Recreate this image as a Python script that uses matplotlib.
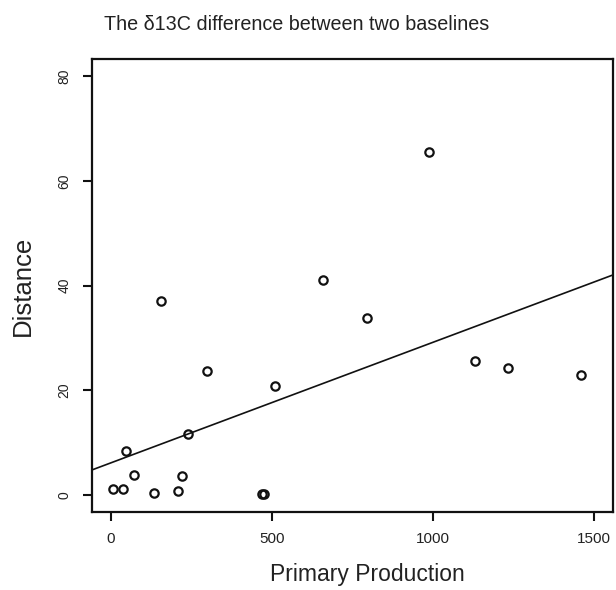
import numpy as np
import matplotlib
matplotlib.use('Agg')
import matplotlib.pyplot as plt

# primary production vs distance
prodPrimary = [5, 38, 46, 72, 134, 155, 207, 222, 239, 297, 468, 474, 510,
               659, 794, 988, 1131, 1235, 1460]
distance = [1.1, 1.2, 8.4, 3.8, 0.3, 37.1, 0.8, 3.6, 11.6, 23.6, 0.15, 0.15, 20.8,
            41.1, 33.8, 65.5, 25.5, 24.2, 23.0]

# fitted line: intercept, slope
lineCoef = [6.14, 0.0230]

xTicks = [0, 500, 1000, 1500]
yTicks = [0, 20, 40, 60, 80]

plt.rcParams['font.family'] = ['Liberation Sans', 'DejaVu Sans']

fig = plt.figure(figsize=(6.16, 5.9), dpi=100)
ax = fig.add_axes([0.1489, 0.1327, 0.9951 - 0.1489, 0.8995 - 0.1327])

ax.plot(prodPrimary, distance, 'o', mfc='none', mec='#111111', ms=6, mew=1.6)

xx = np.array([-60, 1560])
ax.plot(xx, lineCoef[0] + lineCoef[1] * xx, color='#111111', lw=1.2)

ax.set_xlim(-60, 1560)
ax.set_ylim(-3.2, 83.2)
ax.set_xticks(xTicks)
ax.set_yticks(yTicks)
ax.set_xticklabels([str(v) for v in xTicks], fontsize=11, color='#222222')
ax.set_yticklabels([str(v) for v in yTicks], fontsize=10, rotation=90, va='center',
                   color='#222222')
ax.tick_params(length=6.5, width=1.5, color='#111111', pad=8)

for sp in ax.spines.values():
    sp.set_linewidth(1.6)
    sp.set_color('#111111')

fig.text(297 / 616, 1 - 25 / 590, 'The δ13C difference between two baselines',
         ha='center', va='center', fontsize=14.2, color='#222222')
fig.text(367 / 616, 1 - 575 / 590, 'Primary Production',
         ha='center', va='center', fontsize=16.5, color='#222222')
fig.text(23 / 616, 1 - 286 / 590, 'Distance', rotation=90,
         ha='center', va='center', fontsize=18.5, color='#222222')

fig.savefig('out.png', dpi=100)
